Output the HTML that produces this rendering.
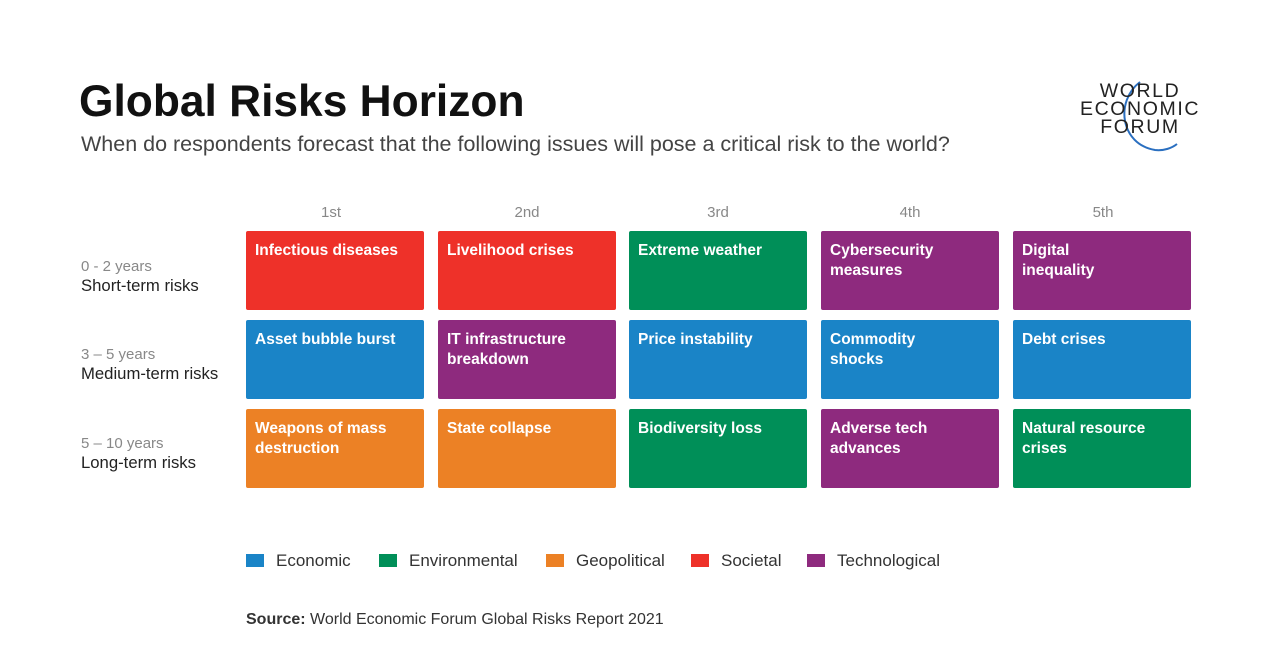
<!DOCTYPE html>
<html><head><meta charset="utf-8"><style>
body{margin:0;width:1280px;height:653px;background:#fff;font-family:"Liberation Sans",Arial,sans-serif;position:relative;overflow:hidden;color:#222}
.a{position:absolute}
.box{position:absolute;width:178px;height:79px;border-radius:2px;color:#fff;font-size:15.5px;font-weight:bold;line-height:20px;padding:10px 0 0 9px;box-sizing:border-box}
.r{background:#EE3129}.b{background:#1A84C7}.g{background:#008F58}.o{background:#EC8125}.p{background:#8E2A7E}
.col{position:absolute;top:204px;width:170px;text-align:center;color:#888;font-size:15px}
.rl{position:absolute;left:81px;font-size:16.7px;line-height:19px}
.rl span{color:#888;font-size:15px}
.lg{position:absolute;top:551px;font-size:17px;color:#333}
.lg i{display:inline-block;width:18px;height:13px;margin-right:12px;vertical-align:-1px}
.logo{position:absolute;left:1080px;width:120px;text-align:center;font-size:19.5px;letter-spacing:1.6px;color:#222;line-height:18px}
</style></head><body>
<div class="a" style="left:79px;top:77px;font-size:44.3px;font-weight:bold;color:#111">Global Risks Horizon</div>
<div class="a" style="left:81px;top:132px;font-size:21.5px;color:#444">When do respondents forecast that the following issues will pose a critical risk to the world?</div>
<svg class="a" style="left:1100px;top:76px" width="100" height="80"><path d="M40 6 C 15 25, 20 68, 55 74 C 64 75, 72 72, 77 68" fill="none" stroke="#2a6fc0" stroke-width="2"/></svg>
<div class="logo" style="top:82px">WORLD<br>ECONOMIC<br>FORUM</div>

<div class="col" style="left:246px">1st</div>
<div class="col" style="left:442px">2nd</div>
<div class="col" style="left:633px">3rd</div>
<div class="col" style="left:825px">4th</div>
<div class="col" style="left:1018px">5th</div>

<div class="rl" style="top:256px"><span>0 - 2 years</span><br>Short-term risks</div>
<div class="rl" style="top:344px"><span>3 – 5 years</span><br>Medium-term risks</div>
<div class="rl" style="top:433px"><span>5 – 10 years</span><br>Long-term risks</div>

<div class="box r" style="left:246px;top:231px">Infectious diseases</div>
<div class="box r" style="left:438px;top:231px">Livelihood crises</div>
<div class="box g" style="left:629px;top:231px">Extreme weather</div>
<div class="box p" style="left:821px;top:231px">Cybersecurity<br>measures</div>
<div class="box p" style="left:1013px;top:231px">Digital<br>inequality</div>

<div class="box b" style="left:246px;top:320px">Asset bubble burst</div>
<div class="box p" style="left:438px;top:320px">IT infrastructure<br>breakdown</div>
<div class="box b" style="left:629px;top:320px">Price instability</div>
<div class="box b" style="left:821px;top:320px">Commodity<br>shocks</div>
<div class="box b" style="left:1013px;top:320px">Debt crises</div>

<div class="box o" style="left:246px;top:409px">Weapons of mass<br>destruction</div>
<div class="box o" style="left:438px;top:409px">State collapse</div>
<div class="box g" style="left:629px;top:409px">Biodiversity loss</div>
<div class="box p" style="left:821px;top:409px">Adverse tech<br>advances</div>
<div class="box g" style="left:1013px;top:409px">Natural resource<br>crises</div>

<div class="lg" style="left:246px"><i class="b"></i>Economic</div>
<div class="lg" style="left:379px"><i class="g"></i>Environmental</div>
<div class="lg" style="left:546px"><i class="o"></i>Geopolitical</div>
<div class="lg" style="left:691px"><i class="r"></i>Societal</div>
<div class="lg" style="left:807px"><i class="p"></i>Technological</div>

<div class="a" style="left:246px;top:611px;font-size:16px;color:#333"><b>Source:</b> World Economic Forum Global Risks Report 2021</div>
</body></html>
